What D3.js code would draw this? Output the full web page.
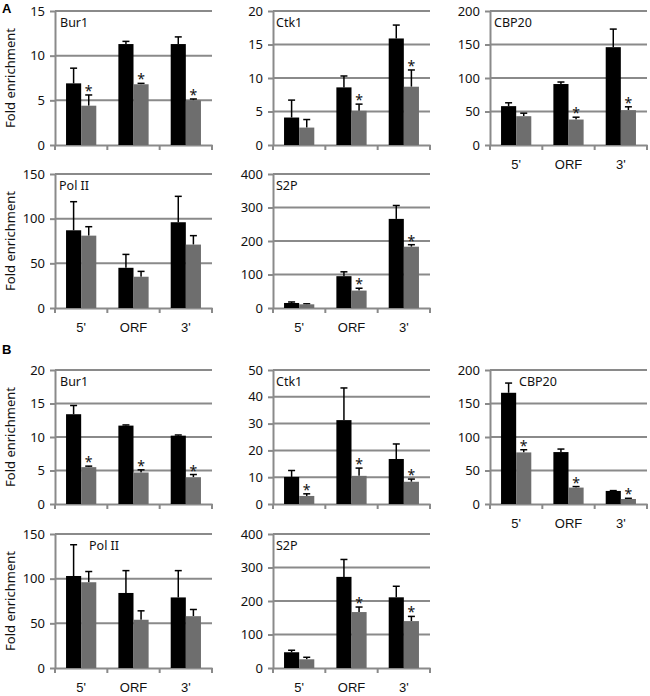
<!DOCTYPE html>
<html>
<head>
<meta charset="utf-8">
<script src="https://cdn.jsdelivr.net/npm/d3@7/dist/d3.min.js"></script>
<style>
  html, body { margin: 0; padding: 0; background: #fff; }
  svg { display: block; font-family: "Noto Sans", "Open Sans", sans-serif; }
</style>
</head>
<body>
<svg id="chart" width="650" height="696"></svg>
<script>
// ---------------- DATA ----------------
const categories = ["5'", "ORF", "3'"];

// Panel A
const aBur1Black = [6.9, 11.3, 11.3];   const aBur1BlackErr = [1.7, 0.3, 0.8];
const aBur1Grey  = [4.4, 6.8, 5.0];     const aBur1GreyErr  = [1.2, 0.1, 0.15];
const aBur1Sig   = [true, true, true];
const aBur1Ticks = [0, 5, 10, 15];

const aCtk1Black = [4.1, 8.6, 15.9];    const aCtk1BlackErr = [2.6, 1.7, 2.0];
const aCtk1Grey  = [2.6, 5.1, 8.7];     const aCtk1GreyErr  = [1.2, 1.0, 2.5];
const aCtk1Sig   = [false, true, true];
const aCtk1Ticks = [0, 5, 10, 15, 20];

const aCbp20Black = [58, 91, 146];      const aCbp20BlackErr = [5, 3, 27];
const aCbp20Grey  = [43, 38, 52];       const aCbp20GreyErr  = [4.5, 3.5, 5];
const aCbp20Sig   = [false, true, true];
const aCbp20Ticks = [0, 50, 100, 150, 200];

const aPol2Black = [87, 45, 96];        const aPol2BlackErr = [32, 15, 29];
const aPol2Grey  = [81, 35, 71];        const aPol2GreyErr  = [10, 6, 10];
const aPol2Sig   = [false, false, false];
const aPol2Ticks = [0, 50, 100, 150];

const aS2pBlack = [15, 95, 266];        const aS2pBlackErr = [3, 13, 40];
const aS2pGrey  = [11, 52, 183];        const aS2pGreyErr  = [1.5, 7, 6];
const aS2pSig   = [false, true, true];
const aS2pTicks = [0, 100, 200, 300, 400];

// Panel B
const bBur1Black = [13.4, 11.7, 10.2];  const bBur1BlackErr = [1.3, 0.1, 0.1];
const bBur1Grey  = [5.5, 4.7, 4.0];     const bBur1GreyErr  = [0.15, 0.4, 0.4];
const bBur1Sig   = [true, true, true];
const bBur1Ticks = [0, 5, 10, 15, 20];

const bCtk1Black = [10.1, 31.3, 16.8];  const bCtk1BlackErr = [2.4, 12, 5.6];
const bCtk1Grey  = [3.0, 10.5, 8.3];    const bCtk1GreyErr  = [0.8, 2.9, 1.0];
const bCtk1Sig   = [true, true, true];
const bCtk1Ticks = [0, 10, 20, 30, 40, 50];

const bCbp20Black = [166, 77.5, 19.5];  const bCbp20BlackErr = [14.5, 4.5, 0.5];
const bCbp20Grey  = [77, 24.5, 7.5];    const bCbp20GreyErr  = [4, 1.5, 1];
const bCbp20Sig   = [true, true, true];
const bCbp20Ticks = [0, 50, 100, 150, 200];

const bPol2Black = [103, 84, 79];       const bPol2BlackErr = [35, 25, 30];
const bPol2Grey  = [96, 54, 58];        const bPol2GreyErr  = [12, 10, 7.5];
const bPol2Sig   = [false, false, false];
const bPol2Ticks = [0, 50, 100, 150];

const bS2pBlack = [47, 272, 211];       const bS2pBlackErr = [6, 52, 33];
const bS2pGrey  = [26, 167, 140];       const bS2pGreyErr  = [6, 15, 14];
const bS2pSig   = [false, true, true];
const bS2pTicks = [0, 100, 200, 300, 400];

// ---------------- LAYOUT ----------------
const colX = [55, 273, 490];
const rowY = [11, 174, 370, 534];
const plotW = 157, plotH = 134;
const gridColor = "#8a8a8a";
const greyBar = "#6e6e6e";

const panels = [
  {name: "Bur1",  col: 0, row: 0, black: aBur1Black, blackErr: aBur1BlackErr, grey: aBur1Grey, greyErr: aBur1GreyErr, sig: aBur1Sig, ticks: aBur1Ticks, xLabels: false, yTitle: true, nameX: 5},
  {name: "Ctk1",  col: 1, row: 0, black: aCtk1Black, blackErr: aCtk1BlackErr, grey: aCtk1Grey, greyErr: aCtk1GreyErr, sig: aCtk1Sig, ticks: aCtk1Ticks, xLabels: false, yTitle: false, nameX: 3},
  {name: "CBP20", col: 2, row: 0, black: aCbp20Black, blackErr: aCbp20BlackErr, grey: aCbp20Grey, greyErr: aCbp20GreyErr, sig: aCbp20Sig, ticks: aCbp20Ticks, xLabels: true, yTitle: false, nameX: 4},
  {name: "Pol II", col: 0, row: 1, black: aPol2Black, blackErr: aPol2BlackErr, grey: aPol2Grey, greyErr: aPol2GreyErr, sig: aPol2Sig, ticks: aPol2Ticks, xLabels: true, yTitle: true, nameX: 4},
  {name: "S2P",   col: 1, row: 1, black: aS2pBlack, blackErr: aS2pBlackErr, grey: aS2pGrey, greyErr: aS2pGreyErr, sig: aS2pSig, ticks: aS2pTicks, xLabels: true, yTitle: false, nameX: 3},
  {name: "Bur1",  col: 0, row: 2, black: bBur1Black, blackErr: bBur1BlackErr, grey: bBur1Grey, greyErr: bBur1GreyErr, sig: bBur1Sig, ticks: bBur1Ticks, xLabels: false, yTitle: true, nameX: 5},
  {name: "Ctk1",  col: 1, row: 2, black: bCtk1Black, blackErr: bCtk1BlackErr, grey: bCtk1Grey, greyErr: bCtk1GreyErr, sig: bCtk1Sig, ticks: bCtk1Ticks, xLabels: false, yTitle: false, nameX: 3},
  {name: "CBP20", col: 2, row: 2, black: bCbp20Black, blackErr: bCbp20BlackErr, grey: bCbp20Grey, greyErr: bCbp20GreyErr, sig: bCbp20Sig, ticks: bCbp20Ticks, xLabels: true, yTitle: false, nameX: 29},
  {name: "Pol II", col: 0, row: 3, black: bPol2Black, blackErr: bPol2BlackErr, grey: bPol2Grey, greyErr: bPol2GreyErr, sig: bPol2Sig, ticks: bPol2Ticks, xLabels: true, yTitle: true, nameX: 34},
  {name: "S2P",   col: 1, row: 3, black: bS2pBlack, blackErr: bS2pBlackErr, grey: bS2pGrey, greyErr: bS2pGreyErr, sig: bS2pSig, ticks: bS2pTicks, xLabels: true, yTitle: false, nameX: 3},
];

const svg = d3.select("#chart");

// Panel letters
svg.append("text").attr("x", 2).attr("y", 13).attr("font-weight", "bold")
  .attr("font-size", 13).attr("font-family", "Liberation Sans, Arial, sans-serif").text("A");
svg.append("text").attr("x", 2).attr("y", 354).attr("font-weight", "bold")
  .attr("font-size", 13).attr("font-family", "Liberation Sans, Arial, sans-serif").text("B");

panels.forEach(p => {
  const g = svg.append("g").attr("transform", `translate(${colX[p.col]},${rowY[p.row]})`);
  const yMax = p.ticks[p.ticks.length - 1];
  const y = d3.scaleLinear().domain([0, yMax]).range([plotH, 0]);
  const x = d3.scaleBand().domain(categories).range([0, plotW]).paddingInner(0).paddingOuter(0);
  const sub = d3.scaleBand().domain(["black", "grey"]).range([0, x.bandwidth()]).paddingInner(0).paddingOuter(0.73);

  // gridlines (excluding 0)
  g.append("g").selectAll("line").data(p.ticks.filter(t => t > 0)).join("line")
    .attr("x1", 0).attr("x2", plotW)
    .attr("y1", d => y(d)).attr("y2", d => y(d))
    .attr("stroke", gridColor).attr("stroke-width", 2);

  // y axis
  const yAxis = d3.axisLeft(y).tickValues(p.ticks).tickSize(5).tickPadding(5).tickSizeOuter(0);
  const ya = g.append("g").call(yAxis);
  ya.select(".domain").attr("stroke", gridColor).attr("stroke-width", 2);
  ya.selectAll(".tick line").attr("stroke", gridColor).attr("stroke-width", 2);
  ya.selectAll(".tick text").attr("font-size", 13).attr("fill", "#111")
    .attr("font-family", "Noto Sans, sans-serif");

  // x axis
  const xa = g.append("g").attr("transform", `translate(0,${plotH})`)
    .call(d3.axisBottom(x).tickSize(0).tickSizeOuter(0).tickFormat(p.xLabels ? (d => d) : (() => "")).tickPadding(15));
  xa.select(".domain").attr("stroke", gridColor).attr("stroke-width", 2);
  xa.selectAll(".tick text").attr("font-size", 13).attr("fill", "#111");
  // category boundary ticks
  const bounds = categories.map(c => x(c)).concat([plotW]);
  xa.append("g").selectAll("line").data(bounds).join("line")
    .attr("x1", d => d).attr("x2", d => d).attr("y1", 0).attr("y2", 5)
    .attr("stroke", gridColor).attr("stroke-width", 2);

  // bars
  const rows = categories.map((c, i) => ({
    c,
    black: p.black[i], blackErr: p.blackErr[i],
    grey: p.grey[i], greyErr: p.greyErr[i], sig: p.sig[i]
  }));

  const bw = sub.bandwidth();
  ["black", "grey"].forEach(key => {
    const eg = g.append("g");
    rows.forEach(r => {
      const cx = x(r.c) + sub(key) + bw / 2;
      const top = y(r[key] + r[key + "Err"]);
      eg.append("line").attr("x1", cx).attr("x2", cx)
        .attr("y1", y(r[key])).attr("y2", top)
        .attr("stroke", "#000").attr("stroke-width", 1.5);
      eg.append("line").attr("x1", cx - 3.5).attr("x2", cx + 3.5)
        .attr("y1", top).attr("y2", top)
        .attr("stroke", "#000").attr("stroke-width", 1.5);
    });
  });

  g.append("g").selectAll("rect.b").data(rows).join("rect")
    .attr("x", d => x(d.c) + sub("black")).attr("width", bw)
    .attr("y", d => y(d.black)).attr("height", d => plotH - y(d.black))
    .attr("fill", "#000");
  g.append("g").selectAll("rect.g").data(rows).join("rect")
    .attr("x", d => x(d.c) + sub("grey")).attr("width", bw)
    .attr("y", d => y(d.grey)).attr("height", d => plotH - y(d.grey))
    .attr("fill", greyBar);

  // significance asterisks
  g.append("g").selectAll("text").data(rows.filter(r => r.sig)).join("text")
    .attr("x", d => x(d.c) + sub("grey") + bw / 2)
    .attr("y", d => y(d.grey + d.greyErr) + 1)
    .attr("text-anchor", "middle").attr("font-size", 14).attr("fill", "#111")
    .text("*");

  // panel name
  g.append("text").attr("x", p.nameX).attr("y", 16).attr("font-size", 12.5).attr("fill", "#111").text(p.name);

  // y title
  if (p.yTitle) {
    svg.append("text")
      .attr("transform", `translate(${15},${rowY[p.row] + plotH / 2}) rotate(-90)`)
      .attr("text-anchor", "middle").attr("font-size", 13).attr("fill", "#111")
      .text("Fold enrichment");
  }
});
</script>
</body>
</html>
